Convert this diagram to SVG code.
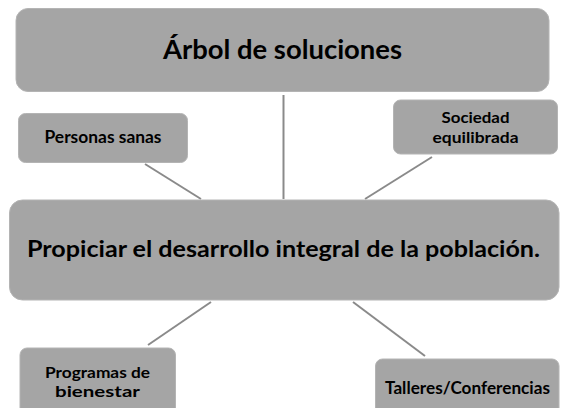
<svg xmlns="http://www.w3.org/2000/svg" width="570" height="408" viewBox="0 0 570 408">
<style>
.box{fill:#a5a5a5;stroke:#b4b4b4;stroke-width:1}
.t{font-family:Lato,"Open Sans","Liberation Sans",sans-serif;font-weight:bold;fill:#000;text-anchor:middle}
.c{stroke:#8a8a8a;stroke-width:2;fill:none}
</style>
<rect width="570" height="408" fill="#fff"/>
<g id="connectors">
<line class="c" x1="283.5" y1="95" x2="283.5" y2="199"/>
<line class="c" x1="145" y1="164" x2="201" y2="199"/>
<line class="c" x1="432" y1="157" x2="365" y2="199"/>
<line class="c" x1="211" y1="302" x2="148" y2="345"/>
<line class="c" x1="353" y1="302" x2="425" y2="356"/>
</g>
<g id="titulo">
<rect class="box" x="16" y="8.5" width="533" height="83" rx="12"/>
<text class="t" x="282.5" y="59" font-size="27" textLength="239" lengthAdjust="spacingAndGlyphs">Árbol de soluciones</text>
</g>
<g id="personas">
<rect class="box" x="18.5" y="113.5" width="169" height="49" rx="7"/>
<text class="t" x="103" y="143" font-size="16.5" textLength="117" lengthAdjust="spacingAndGlyphs">Personas sanas</text>
</g>
<g id="sociedad">
<rect class="box" x="393.5" y="100" width="164" height="54" rx="7"/>
<text class="t" x="475.5" y="123" font-size="15.8" textLength="68" lengthAdjust="spacingAndGlyphs">Sociedad</text>
<text class="t" x="475.5" y="142.5" font-size="15.8" textLength="86" lengthAdjust="spacingAndGlyphs">equilibrada</text>
</g>
<g id="principal">
<rect class="box" x="9.5" y="200" width="549.5" height="100" rx="13"/>
<text class="t" x="283.5" y="257" font-size="23" textLength="513" lengthAdjust="spacingAndGlyphs">Propiciar el desarrollo integral de la población.</text>
</g>
<g id="programas">
<rect class="box" x="20" y="348" width="155.5" height="80" rx="7"/>
<text class="t" x="97.5" y="378" font-size="15.2" textLength="105" lengthAdjust="spacingAndGlyphs">Programas de</text>
<text class="t" x="97.5" y="396.5" font-size="15.2" textLength="85" lengthAdjust="spacingAndGlyphs">bienestar</text>
</g>
<g id="talleres">
<rect class="box" x="375.5" y="359" width="183.5" height="70" rx="7"/>
<text class="t" x="467.5" y="394" font-size="16.5" textLength="165" lengthAdjust="spacingAndGlyphs">Talleres/Conferencias</text>
</g>
</svg>
